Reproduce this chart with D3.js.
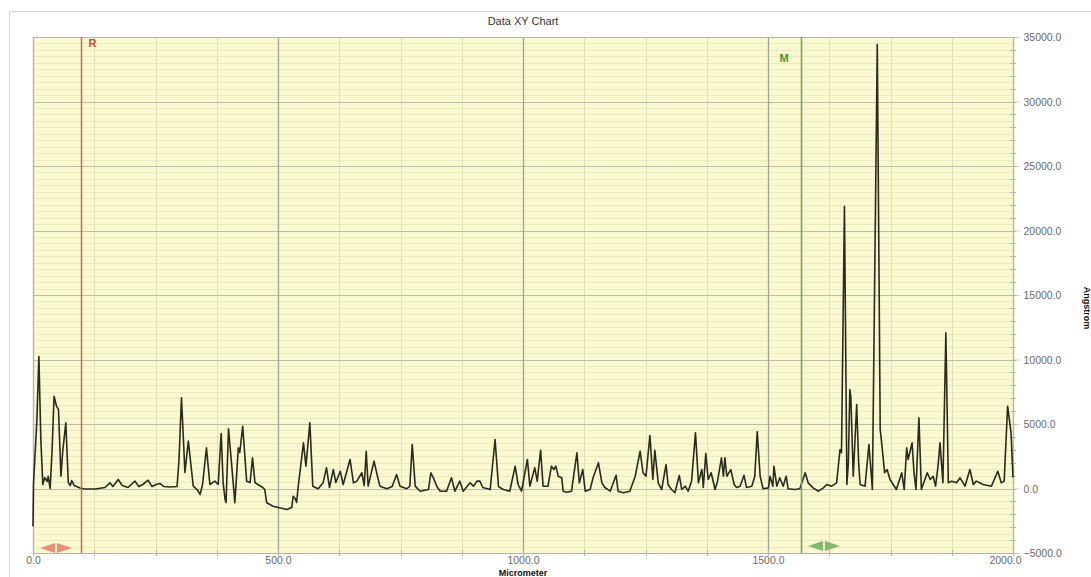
<!DOCTYPE html>
<html>
<head>
<meta charset="utf-8">
<script src="https://cdn.jsdelivr.net/npm/d3@7"></script>
<style>
  html, body { margin: 0; padding: 0; background: #fff; overflow: hidden; }
  svg { display: block; font-family: "Liberation Sans", Arial, sans-serif; }
</style>
</head>
<body>
<div id="chart"></div>
<script>
const width = 1091,
  height = 577,
  margin = { top: 37, right: 78, bottom: 24, left: 33 };

// profile data
const micrometer = [0,1,8,12,16,20,24,29,31,35,39,43,48,52,57,61,67,72,76,79,84,96,106,127,147,157,163,174,182,194,208,216,224,235,243,251,259,267,280,294,298,303,307,310,317,324,327,335,341,346,354,361,371,378,384,388,392,394,399,405,412,419,422,428,436,443,448,453,459,469,473,477,490,518,528,531,535,538,541,552,557,565,571,582,
  592,599,605,613,618,627,633,647,654,661,671,676,680,684,696,703,708,722,733,742,749,763,769,774,780,790,807,812,817,824,831,844,854,861,871,878,892,899,906,912,918,933,943,950,960,973,984,990,997,1009,1014,
  1024,1029,1036,1041,1051,1058,1063,1067,1072,1079,1082,1089,1099,1110,1115,1122,1127,1137,1143,1154,1161,1167,1178,1190,1194,1205,1218,1229,1239,1245,1251,1259,1265,1269,1276,1283,1292,1296,1303,1310,1319,1324,1331,1337,1344,1352,1358,1365,1368,1373,1378,1384,1392,1397,1405,1409,1412,1416,1424,1431,1436,1443,1451,1456,1467,1473,1478,1484,1490,1501,1504,1510,1512,1518,1524,1531,1537,1541,1555,1565,
  1576,1582,1592,1603,1613,1620,1630,1640,1647,1650,1656,1661,1664,1667,1669,1674,1681,1685,1688,1698,1706,1713,1723,1729,1732,1738,1743,1749,1762,1773,1778,1783,1786,1794,1798,1802,1808,1813,1825,1831,1837,1842,1847,1851,1857,1863,1868,1875,1885,1892,1902,1912,1919,1925,1932,1939,1956,1969,1976,1982,1989,1996,2000];

const angstrom = [-2950,310,5350,10230,3800,310,850,540,950,0,3020,7150,6380,6120,950,3020,5090,460,230,620,230,40,-40,-40,80,440,150,700,230,80,570,150,310,640,150,310,390,150,120,150,2250,7030,3800,1240,3670,1240,180,-80,-460,310,3150,310,570,310,4260,460,-850,-1085,4630,2020,-1110,3150,2790,4830,570,460,2380,460,310,80,-80,-1110,-1370,-1630,-1470,-600,-780,-1085,80,3540,1730,5090,180,-20,
  440,1600,80,1470,460,1340,310,2250,440,570,1220,230,2890,180,2120,950,180,-20,150,1085,180,-20,180,3410,180,-210,-80,1220,830,180,-210,-210,830,-210,570,-210,440,180,570,570,80,-80,3800,150,-80,-210,1730,310,-210,2250,180,
  1600,570,2970,180,180,1730,1470,1730,950,830,-210,-290,-210,2770,440,1470,-210,-80,830,1990,440,80,-210,1030,-210,-330,-210,950,2890,1220,950,4110,700,2970,440,-80,1860,310,-80,-330,1010,-80,180,-210,570,4320,440,1470,80,2710,700,1220,-80,570,2380,950,2380,950,1470,310,80,180,1030,80,180,950,4390,950,-20,50,950,180,1730,180,830,180,950,-20,-80,-20,
  1220,440,50,-210,50,310,180,440,3020,2770,21880,310,1990,7670,7150,950,6510,1990,310,180,3410,-80,34410,4570,3540,1220,1470,700,-80,1220,-80,3150,2250,3540,1220,-80,5480,-80,1220,700,950,180,1730,3540,440,12070,440,570,440,830,180,1470,310,570,440,310,180,1340,440,570,6380,4320,850];

const xTicks = [0, 500, 1000, 1500, 2000];
const yTicks = [-5000, 0, 5000, 10000, 15000, 20000, 25000, 30000, 35000];

const cursorR = 98, cursorM = 1567;

const title = "Data XY Chart",
  xTitle = "Micrometer",
  yTitle = "Angstrom";

const x = d3.scaleLinear().domain([0, 2000]).range([margin.left, width - margin.right]);
const y = d3.scaleLinear().domain([-5000, 35000]).range([height - margin.bottom, margin.top]);

const svg = d3.select("#chart")
  .append("svg")
  .attr("width", width)
  .attr("height", height);

// outer frame
svg.append("rect")
  .attr("x", 9.5).attr("y", 11.5)
  .attr("width", width).attr("height", height)
  .attr("fill", "none")
  .attr("stroke", "#d4d4d4");

const x0 = x(0), x1 = x(2000), y0 = y(-5000), y1 = y(35000);

// plot background
svg.append("rect")
  .attr("x", x0).attr("y", y1)
  .attr("width", x1 - x0).attr("height", y0 - y1)
  .attr("fill", "#fbf9cf");

const grid = svg.append("g");

// horizontal minor lines
grid.selectAll(".hmin")
  .data(d3.range(-5000, 35001, 500).filter(v => v % 5000 !== 0))
  .join("line")
  .attr("x1", x0).attr("x2", x1)
  .attr("y1", d => Math.round(y(d)) + 0.5).attr("y2", d => Math.round(y(d)) + 0.5)
  .attr("stroke", "#ece9c0");

// vertical minor lines
grid.selectAll(".vmin")
  .data(d3.range(0, 2001, 125).filter(v => v % 500 !== 0))
  .join("line")
  .attr("x1", d => Math.round(x(d)) + 0.5).attr("x2", d => Math.round(x(d)) + 0.5)
  .attr("y1", y1).attr("y2", y0)
  .attr("stroke", "#e2dfb2");

// horizontal major lines
grid.selectAll(".hmaj")
  .data(yTicks)
  .join("line")
  .attr("x1", x0).attr("x2", x1)
  .attr("y1", d => Math.round(y(d)) + 0.5).attr("y2", d => Math.round(y(d)) + 0.5)
  .attr("stroke", "#bdbca6");

// vertical major lines
grid.selectAll(".vmaj")
  .data(xTicks)
  .join("line")
  .attr("x1", d => Math.round(x(d)) + 0.5).attr("x2", d => Math.round(x(d)) + 0.5)
  .attr("y1", y1).attr("y2", y0)
  .attr("stroke", "#9ea596")
  .attr("stroke-width", 1.3);

// plot border
svg.append("rect")
  .attr("x", x0 + 0.5).attr("y", y1 + 0.5)
  .attr("width", x1 - x0).attr("height", y0 - y1)
  .attr("fill", "none")
  .attr("stroke", "#b5b5a5");

// right axis
const yAxis = d3.axisRight(y)
  .tickValues(yTicks)
  .tickSize(6)
  .tickPadding(4)
  .tickFormat(d => d3.format(".1f")(d));

const yg = svg.append("g")
  .attr("transform", `translate(${x1 + 0.5},0)`)
  .call(yAxis);
yg.select(".domain").remove();
yg.selectAll(".tick line").attr("stroke", "#c8c8c8");
yg.selectAll(".tick text")
  .attr("fill", "#6a6a6a")
  .attr("font-size", 10.5)
  .attr("dy", "0.35em");

// minor ticks on right axis
svg.append("g").selectAll("line")
  .data(d3.range(-5000, 35001, 1000))
  .join("line")
  .attr("x1", x1 - 3).attr("x2", x1 + 3)
  .attr("y1", d => Math.round(y(d)) + 0.5).attr("y2", d => Math.round(y(d)) + 0.5)
  .attr("stroke", "#b8b8a8");

// bottom axis
const xAxis = d3.axisBottom(x)
  .tickValues(xTicks)
  .tickSize(0)
  .tickPadding(4)
  .tickFormat(d => d3.format(".1f")(d));

const xg = svg.append("g")
  .attr("transform", `translate(0,${y0})`)
  .call(xAxis);
xg.select(".domain").remove();
xg.selectAll(".tick text")
  .attr("fill", "#6a6a6a")
  .attr("font-size", 10.5)
  .attr("dx", d => d === 2000 ? -8 : 0);

svg.append("g").selectAll("line")
  .data(d3.range(0, 2001, 125))
  .join("line")
  .attr("x1", d => Math.round(x(d)) + 0.5).attr("x2", d => Math.round(x(d)) + 0.5)
  .attr("y1", y0 - 3).attr("y2", y0 + 3)
  .attr("stroke", "#b8b8a8");

// titles
svg.append("text")
  .attr("x", (x0 + x1) / 2).attr("y", 25)
  .attr("text-anchor", "middle")
  .attr("font-size", 11)
  .attr("fill", "#333")
  .text(title);

svg.append("text")
  .attr("x", (x0 + x1) / 2).attr("y", 575.5)
  .attr("text-anchor", "middle")
  .attr("font-size", 9)
  .attr("font-weight", "bold")
  .attr("fill", "#111")
  .text(xTitle);

svg.append("text")
  .attr("transform", `translate(1084,${y(14000)}) rotate(90)`)
  .attr("text-anchor", "middle")
  .attr("font-size", 9)
  .attr("font-weight", "bold")
  .attr("fill", "#111")
  .text(yTitle);

// profile line
const line = d3.line()
  .x((d, i) => x(micrometer[i]))
  .y(d => y(d));

svg.append("path")
  .datum(angstrom)
  .attr("d", line)
  .attr("fill", "none")
  .attr("stroke", "#2b2a1e")
  .attr("stroke-width", 1.6)
  .attr("stroke-linejoin", "round");

// cursors
const cursors = [
  { name: "R", value: cursorR, color: "#cc6a4e", label: "#d2473a", dx: 7, ly: 47, arrow: "#e8907c" },
  { name: "M", value: cursorM, color: "#6aa85c", label: "#3d9a3d", dx: -22, ly: 62, arrow: "#80b872" },
];

cursors.forEach(c => {
  const cx = Math.round(x(c.value)) + 0.5;
  svg.append("line")
    .attr("x1", cx).attr("x2", cx)
    .attr("y1", y1).attr("y2", y0)
    .attr("stroke", c.color)
    .attr("stroke-width", 1.5);
  svg.append("text")
    .attr("x", cx + c.dx).attr("y", c.ly)
    .attr("font-size", 11)
    .attr("font-weight", "bold")
    .attr("fill", c.label)
    .text(c.name);
});

// double arrows near the bottom
function doubleArrow(cx, cy, color) {
  const w = 16, h = 5;
  svg.append("path")
    .attr("d", `M${cx - 1},${cy - h} L${cx - w},${cy} L${cx - 1},${cy + h} Z`)
    .attr("fill", color);
  svg.append("path")
    .attr("d", `M${cx + 1},${cy - h} L${cx + w},${cy} L${cx + 1},${cy + h} Z`)
    .attr("fill", color);
}
doubleArrow(56, 548, cursors[0].arrow);
doubleArrow(824, 546, cursors[1].arrow);
</script>
</body>
</html>
